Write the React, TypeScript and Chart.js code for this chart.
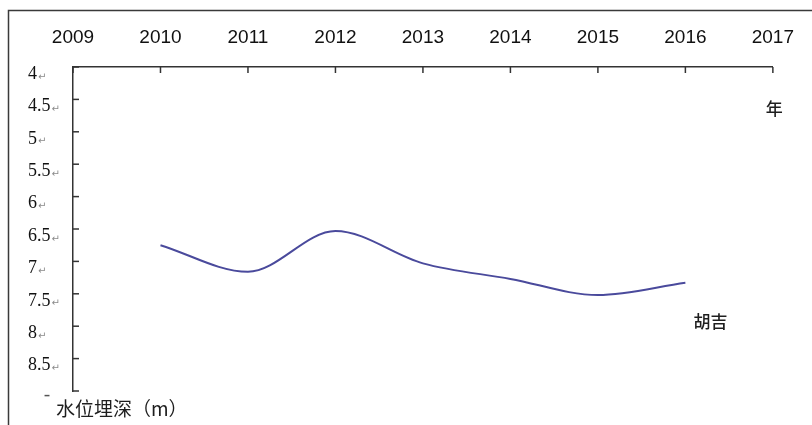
import React, { useEffect, useRef } from "react";
import { Chart, registerables } from "chart.js";
Chart.register(...registerables);

const years = [2010, 2011, 2012, 2013, 2014, 2015, 2016];
const depth = [6.75, 7.16, 6.53, 7.03, 7.27, 7.52, 7.33];
const seriesName = "胡吉";
const xMin = 2009;
const xMax = 2017;
const yMin = 4;
const yMax = 9;
const yStep = 0.5;
const xTitle = "年";
const yTitle = "水位埋深（m）";

const Y_LABEL_FONT = "18px 'Liberation Serif', serif";
const Y_LABEL_OFFSET = 7;

export default function App() {
  const ref = useRef<HTMLCanvasElement>(null);
  useEffect(() => {
    document.body.style.margin = "0";
    const canvas = ref.current!;
    const decor = {
      id: "decor",
      beforeDraw(chart: any) {
        const ctx = chart.ctx;
        ctx.save();
        ctx.fillStyle = "#ffffff";
        ctx.fillRect(0, 0, chart.width, chart.height);
        ctx.restore();
      },
      afterDraw(chart: any) {
        const ctx = chart.ctx;
        const xs = chart.scales.x;
        const ys = chart.scales.y;
        const ca = chart.chartArea;
        ctx.save();
        // outer frame
        ctx.strokeStyle = "#3a3a3a";
        ctx.lineWidth = 1.5;
        ctx.beginPath();
        ctx.moveTo(8.5, chart.height);
        ctx.lineTo(8.5, 10.5);
        ctx.lineTo(chart.width, 10.5);
        ctx.stroke();
        // inward tick marks
        ctx.strokeStyle = "#333";
        ctx.lineWidth = 1.5;
        xs.ticks.forEach((t: any) => {
          const px = xs.getPixelForValue(t.value);
          ctx.beginPath();
          ctx.moveTo(px, ca.top);
          ctx.lineTo(px, ca.top + 6);
          ctx.stroke();
        });
        ys.ticks.forEach((t: any) => {
          const py = ys.getPixelForValue(t.value);
          ctx.beginPath();
          ctx.moveTo(ca.left, py);
          ctx.lineTo(ca.left + 6, py);
          ctx.stroke();
        });
        // paragraph marks after y labels
        ys.ticks.forEach((t: any) => {
          if (t.value === yMax) return;
          const py = ys.getPixelForValue(t.value) + Y_LABEL_OFFSET;
          ctx.font = Y_LABEL_FONT;
          const w = ctx.measureText(String(t.value)).width;
          ctx.font = "10px 'DejaVu Sans'";
          ctx.fillStyle = "#8a8a8a";
          ctx.textAlign = "left";
          ctx.textBaseline = "middle";
          ctx.fillText("↵", ys.left + w + 1, py + 3);
        });
        // titles
        ctx.fillStyle = "#1e1e1e";
        ctx.textBaseline = "middle";
        ctx.textAlign = "left";
        ctx.font = "500 17px 'Noto Sans CJK SC'";
        ctx.fillText(xTitle, ca.right - 7, 109);
        const lx = xs.getPixelForValue(years[years.length - 1]);
        const ly = ys.getPixelForValue(depth[depth.length - 1]);
        ctx.fillText(seriesName, lx + 8, ly + 39);
        ctx.font = "19px 'Noto Sans CJK SC'";
        ctx.fillText(yTitle, 56, 409);
        ctx.fillStyle = "#555";
        ctx.font = "bold 16px 'DejaVu Sans'";
        ctx.fillText("ˉ", 43, 403);
        ctx.restore();
      },
    };
    const chart = new Chart(canvas, {
      type: "line",
      data: {
        datasets: [
          {
            label: seriesName,
            data: years.map((y, i) => ({ x: y, y: depth[i] })),
            borderColor: "#4a4a9c",
            borderWidth: 2,
            pointRadius: 0,
            fill: false,
            cubicInterpolationMode: "monotone",
          },
        ],
      },
      options: {
        animation: false,
        responsive: false,
        devicePixelRatio: 1,
        layout: { padding: { left: 28, right: 39, top: 0, bottom: 34 } },
        plugins: { legend: { display: false }, tooltip: { enabled: false } },
        scales: {
          x: {
            type: "linear",
            position: "top",
            min: xMin,
            max: xMax,
            grid: { display: false, drawTicks: false },
            border: { display: true, color: "#333", width: 1.5 },
            ticks: {
              stepSize: 1,
              padding: 18,
              color: "#111",
              font: { family: "'Liberation Sans', sans-serif", size: 19 },
              callback: (v: any) => String(v),
            },
            afterFit: (s: any) => {
              s.height = 67;
            },
          },
          y: {
            type: "linear",
            reverse: true,
            min: yMin,
            max: yMax,
            grid: { display: false, drawTicks: false },
            border: { display: true, color: "#333", width: 1.5 },
            ticks: {
              stepSize: yStep,
              crossAlign: "far",
              labelOffset: Y_LABEL_OFFSET,
              color: "#111",
              font: { family: "'Liberation Serif', serif", size: 18 },
              callback: (v: any) => (v === yMax ? "" : String(v)),
            },
            afterFit: (s: any) => {
              s.width = 45;
            },
          },
        },
      },
      plugins: [decor],
    } as any);
    return () => chart.destroy();
  }, []);
  return (
    <div style={{ width: 812, height: 425 }}>
      <canvas ref={ref} width={812} height={425} style={{ display: "block" }} />
    </div>
  );
}
